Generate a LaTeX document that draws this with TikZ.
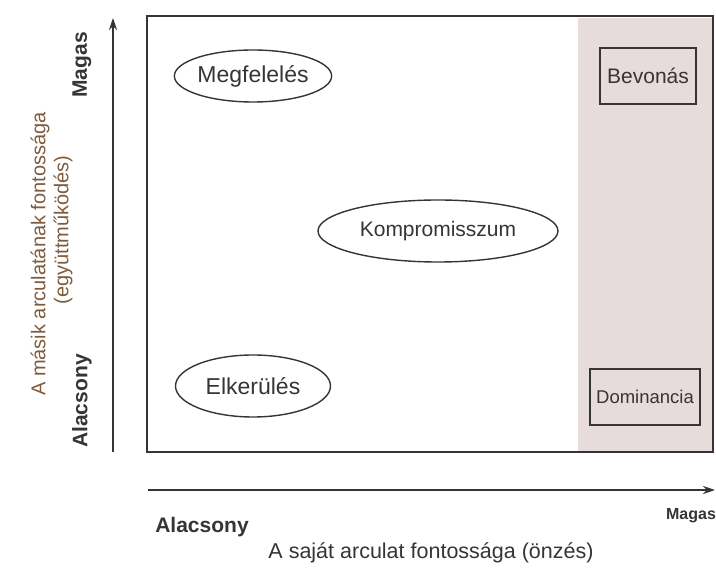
\documentclass[tikz,border=0pt]{standalone}
\usepackage{fontspec}
\setmainfont{Liberation Sans}
\usetikzlibrary{arrows.meta,shapes.geometric}
\definecolor{ink}{RGB}{55,52,50}
\definecolor{axisbrown}{RGB}{125,92,62}
\definecolor{zone}{RGB}{231,220,220}
\tikzset{
  oval/.style={ellipse,draw=ink,line width=1.4pt,text=ink,inner sep=0pt,font=\fontsize{21}{24}\selectfont},
  strategy/.style={rectangle,draw=ink,line width=2.4pt,text=ink,inner sep=0pt},
  axisline/.style={draw=ink,line width=1.6pt,-{Stealth[length=12pt,width=8pt]}},
  endlabel/.style={text=ink,font=\bfseries\fontsize{21}{24}\selectfont},
  axistitle/.style={text=axisbrown,font=\fontsize{20}{24}\selectfont}
}
\begin{document}
\begin{tikzpicture}[x=1pt,y=1pt]
  \useasboundingbox (0,0) rectangle (716,576);
  % shaded high-self-concern zone and the frame
  \fill[zone] (578,125) rectangle (713,558);
  \draw[ink,line width=1.6pt] (147,124) rectangle (713,560);

  % axes
  \coordinate (ybot) at (113,124);
  \coordinate (ytop) at (113,558);
  \coordinate (xleft) at (148,86);
  \coordinate (xright) at (715,86);
  \draw[axisline] (ybot) -- (ytop);
  \draw[axisline] (xleft) -- (xright);

  % strategies
  \node[oval,minimum width=150,minimum height=52,font=\fontsize{23}{26}\selectfont] (megf) at (253,500) {Megfelelés};
  \node[oval,minimum width=240,minimum height=62] (komp) at (438,345) {Kompromisszum};
  \node[oval,minimum width=155,minimum height=62,font=\fontsize{23}{26}\selectfont] (elk) at (253,190) {Elkerülés};
  \node[strategy,minimum width=96,minimum height=56,font=\fontsize{21}{24}\selectfont] (bev) at (648,500) {Bevonás};
  \node[strategy,minimum width=110,minimum height=56,font=\fontsize{18.5}{22}\selectfont] (dom) at (645,179) {Dominancia};

  % vertical axis labels
  \node[endlabel,rotate=90] (vhigh) at (82,511) {Magas};
  \node[endlabel,rotate=90] (vlow) at (82,175) {Alacsony};
  \node[axistitle,rotate=90] (vt1) at (40,322) {A másik arculatának fontossága};
  \node[axistitle,rotate=90] (vt2) at (63,346) {(együttműködés)};

  % horizontal axis labels
  \node[endlabel] (hlow) at (202,49) {Alacsony};
  \node[endlabel,font=\bfseries\fontsize{16}{18}\selectfont] (hhigh) at (691,60) {Magas};
  \node[text=ink,font=\fontsize{21.5}{24}\selectfont] (ht) at (431,23) {A saját arculat fontossága (önzés)};
\end{tikzpicture}
\end{document}
